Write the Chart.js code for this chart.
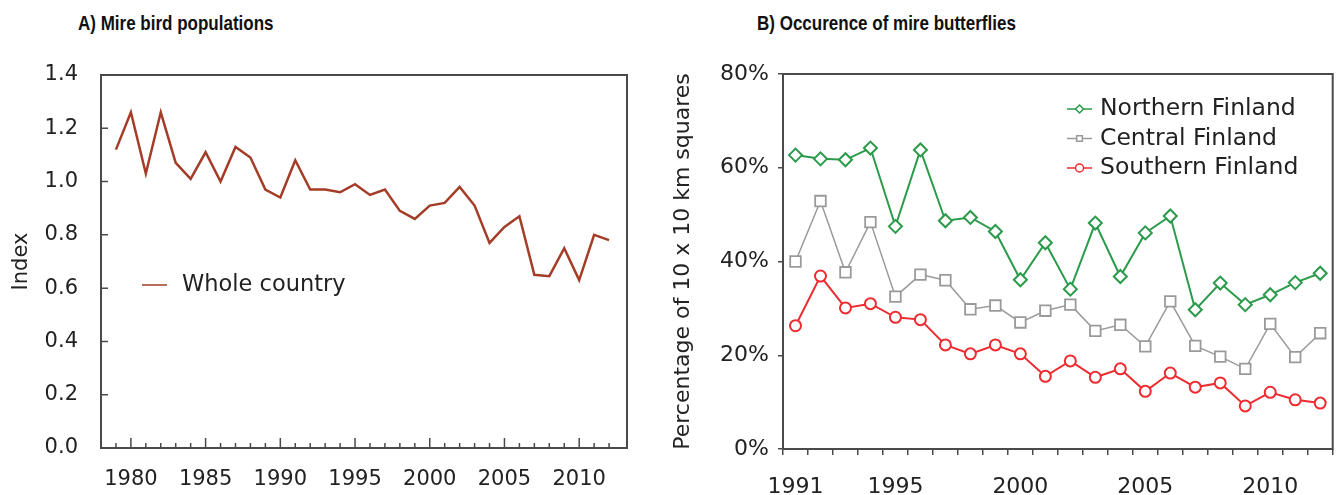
<!DOCTYPE html>
<html>
<head>
<meta charset="utf-8">
<script src="https://cdn.jsdelivr.net/npm/chart.js@4.4.0/dist/chart.umd.min.js"></script>
<style>
  body { margin: 0; background: #fff; width: 1342px; height: 495px; position: relative; overflow: hidden; }
  .ptitle { position: absolute; top: 12px; font: bold 17px "Liberation Sans", Arial, sans-serif; line-height: 20px; color: #111; white-space: nowrap; transform: scaleY(1.22); transform-origin: left top; }
  #birdWrap { position: absolute; left: 0; top: 0; }
  #flyWrap { position: absolute; left: 650px; top: 0; }
</style>
</head>
<body>
<div class="ptitle" style="left:78px">A) Mire bird populations</div>
<div class="ptitle" style="left:757px">B) Occurence of mire butterflies</div>
<div id="birdWrap"><canvas id="birdChart" width="650" height="495"></canvas></div>
<div id="flyWrap"><canvas id="flyChart" width="692" height="495"></canvas></div>

<script>
// ---------- data: A) mire birds ----------
const birdYears = [1979, 1980, 1981, 1982, 1983, 1984, 1985, 1986, 1987, 1988, 1989, 1990,
  1991, 1992, 1993, 1994, 1995, 1996, 1997, 1998, 1999, 2000, 2001, 2002, 2003, 2004,
  2005, 2006, 2007, 2008, 2009, 2010, 2011, 2012];
const birdIndex = [1.12, 1.26, 1.03, 1.26, 1.07, 1.01, 1.11, 1.00, 1.13, 1.09, 0.97, 0.94,
  1.08, 0.97, 0.97, 0.96, 0.99, 0.95, 0.97, 0.89, 0.86, 0.91, 0.92, 0.98, 0.91, 0.77,
  0.83, 0.87, 0.65, 0.645, 0.75, 0.63, 0.80, 0.78];
const birdTickLabels = [1980, 1985, 1990, 1995, 2000, 2005, 2010];

// ---------- data: B) mire butterflies ----------
const flyYears = ['1991', '1992', '1993', '1994', '1995', '1996', '1997', '1998', '1999', '2000', '2001',
  '2002', '2003', '2004', '2005', '2006', '2007', '2008', '2009', '2010', '2011', '2012'];
const northern = [62.7, 61.9, 61.7, 64.2, 47.5, 63.8, 48.7, 49.4, 46.4, 36.1, 44.0,
  34.1, 48.2, 36.8, 46.1, 49.7, 29.7, 35.4, 30.8, 32.9, 35.5, 37.5];
const central = [40.0, 52.9, 37.7, 48.4, 32.5, 37.2, 36.0, 29.8, 30.6, 27.0, 29.5,
  30.8, 25.2, 26.5, 21.9, 31.5, 22.0, 19.7, 17.1, 26.7, 19.6, 24.7];
const southern = [26.3, 36.9, 30.1, 31.0, 28.1, 27.6, 22.2, 20.3, 22.2, 20.3, 15.5,
  18.8, 15.3, 17.1, 12.3, 16.2, 13.2, 14.1, 9.2, 12.1, 10.5, 9.8];
const flyTickLabels = ['1991', '1995', '2000', '2005', '2010'];

const FONT = 'DejaVu Sans';
const AXIS = '#4a4a4a';

// box round the plot area, and inward ticks for chart A
const frame = {
  id: 'frame',
  afterDraw(chart, args, opts) {
    const { ctx, chartArea: a } = chart;
    ctx.save();
    ctx.strokeStyle = AXIS;
    ctx.lineWidth = 2;
    ctx.strokeRect(a.left, a.top, a.right - a.left, a.bottom - a.top);
    if (opts.inward) {
      ctx.lineWidth = 1.5;
      const xs = chart.scales.x, ys = chart.scales.y;
      ctx.beginPath();
      birdYears.forEach(yr => {
        const px = xs.getPixelForValue(yr);
        const len = birdTickLabels.includes(yr) ? 10 : 5;
        ctx.moveTo(px, a.bottom);
        ctx.lineTo(px, a.bottom - len);
      });
      ys.ticks.forEach(t => {
        const py = ys.getPixelForValue(t.value);
        ctx.moveTo(a.left, py);
        ctx.lineTo(a.left + 7, py);
      });
      ctx.stroke();
    }
    ctx.restore();
  }
};

// legend drawn inside the plot area
function drawMarker(ctx, style, x, y, r) {
  ctx.beginPath();
  if (style === 'circle') {
    ctx.arc(x, y, r, 0, Math.PI * 2);
  } else if (style === 'rect') {
    const s = r * Math.SQRT1_2;
    ctx.rect(x - s, y - s, 2 * s, 2 * s);
  } else if (style === 'rectRot') {
    ctx.moveTo(x, y - r); ctx.lineTo(x + r, y); ctx.lineTo(x, y + r); ctx.lineTo(x - r, y); ctx.closePath();
  }
  ctx.fillStyle = '#fff';
  ctx.fill();
  ctx.stroke();
}

const inLegend = {
  id: 'inLegend',
  afterDraw(chart, args, opts) {
    const { ctx, chartArea: a } = chart;
    ctx.save();
    ctx.font = opts.size + 'px "' + FONT + '"';
    ctx.textBaseline = 'middle';
    chart.data.datasets.forEach((ds, i) => {
      const y = a.top + opts.y + i * opts.gap;
      const x = a.left + opts.x;
      ctx.strokeStyle = ds.borderColor;
      ctx.lineWidth = 1.5;
      ctx.beginPath();
      ctx.moveTo(x, y);
      ctx.lineTo(x + opts.len, y);
      ctx.stroke();
      if (ds.pointRadius > 0) drawMarker(ctx, ds.pointStyle, x + opts.len / 2, y, opts.mark);
      ctx.fillStyle = '#222';
      ctx.fillText(ds.label, x + opts.len + opts.pad, y);
    });
    ctx.restore();
  }
};

// ----------------------- CHART A ----------------------- //
const birdCtx = document.getElementById('birdChart').getContext('2d');
const birdChart = new Chart(birdCtx, {
  type: 'line',
  data: {
    datasets: [{
      label: 'Whole country',
      data: birdYears.map((yr, i) => ({ x: yr, y: birdIndex[i] })),
      borderColor: '#a43d27',
      borderWidth: 2.5,
      pointRadius: 0,
      tension: 0
    }]
  },
  options: {
    responsive: false,
    animation: false,
    layout: { padding: { top: 75, right: 23, left: 0, bottom: 0 } },
    plugins: {
      legend: { display: false },
      tooltip: { enabled: false },
      frame: { inward: true },
      inLegend: { x: 41, y: 210, gap: 30, len: 25, pad: 15, size: 22.5, mark: 0 }
    },
    scales: {
      x: {
        type: 'linear', min: 1978, max: 2013.2,
        grid: { display: false },
        border: { display: false },
        afterFit: s => { s.height = 47; },
        ticks: {
          stepSize: 1, autoSkip: false, maxRotation: 0, padding: 11,
          font: { family: FONT, size: 21 }, color: '#222',
          callback: v => birdTickLabels.includes(v) ? String(v) : ''
        }
      },
      y: {
        min: 0, max: 1.4,
        grid: { display: false },
        border: { display: false },
        afterFit: s => { s.width = 101; },
        title: { display: true, text: 'Index', font: { family: FONT, size: 21 }, color: '#222', padding: { top: 9 } },
        ticks: {
          stepSize: 0.2, padding: 15,
          font: { family: FONT, size: 21 }, color: '#222',
          callback: v => v.toFixed(1)
        }
      }
    }
  },
  plugins: [frame, inLegend]
});

// ----------------------- CHART B ----------------------- //
const flyCtx = document.getElementById('flyChart').getContext('2d');
const flyChart = new Chart(flyCtx, {
  type: 'line',
  data: {
    labels: flyYears,
    datasets: [{
      label: 'Northern Finland',
      data: northern,
      borderColor: '#2b9a4a',
      borderWidth: 2,
      pointStyle: 'rectRot',
      pointRadius: 6.5,
      pointBorderWidth: 2,
      pointBackgroundColor: '#fff',
      tension: 0
    }, {
      label: 'Central Finland',
      data: central,
      borderColor: '#9a9a9a',
      borderWidth: 1.5,
      pointStyle: 'rect',
      pointRadius: 7.5,
      pointBorderWidth: 1.8,
      pointBackgroundColor: '#fff',
      tension: 0
    }, {
      label: 'Southern Finland',
      data: southern,
      borderColor: '#ee2b30',
      borderWidth: 2,
      pointStyle: 'circle',
      pointRadius: 5.5,
      pointBorderWidth: 2,
      pointBackgroundColor: '#fff',
      tension: 0
    }]
  },
  options: {
    responsive: false,
    animation: false,
    layout: { padding: { top: 74, right: 7, left: 0, bottom: 0 } },
    plugins: {
      legend: { display: false },
      tooltip: { enabled: false },
      frame: { inward: false },
      inLegend: { x: 284, y: 35, gap: 29.5, len: 25, pad: 8, size: 23.5, mark: 4 }
    },
    scales: {
      x: {
        offset: true,
        grid: { offset: true, drawOnChartArea: false, tickLength: 6, color: AXIS, lineWidth: 1.5 },
        border: { display: false },
        afterFit: s => { s.height = 46; },
        ticks: {
          autoSkip: false, maxRotation: 0, padding: 19,
          font: { family: FONT, size: 22 }, color: '#222',
          callback: function (v) {
            const lab = this.getLabelForValue(v);
            return flyTickLabels.includes(lab) ? lab : '';
          }
        }
      },
      y: {
        min: 0, max: 80,
        grid: { drawOnChartArea: false, tickLength: 5, color: AXIS, lineWidth: 1.5 },
        border: { display: false },
        afterFit: s => { s.width = 133; },
        title: { display: true, text: 'Percentage of 10 x 10 km squares', font: { family: FONT, size: 22 }, color: '#222', padding: { top: 20 } },
        ticks: {
          stepSize: 20, padding: 9,
          font: { family: FONT, size: 22 }, color: '#222',
          callback: v => v + '%'
        }
      }
    }
  },
  plugins: [frame, inLegend]
});
</script>
</body>
</html>
